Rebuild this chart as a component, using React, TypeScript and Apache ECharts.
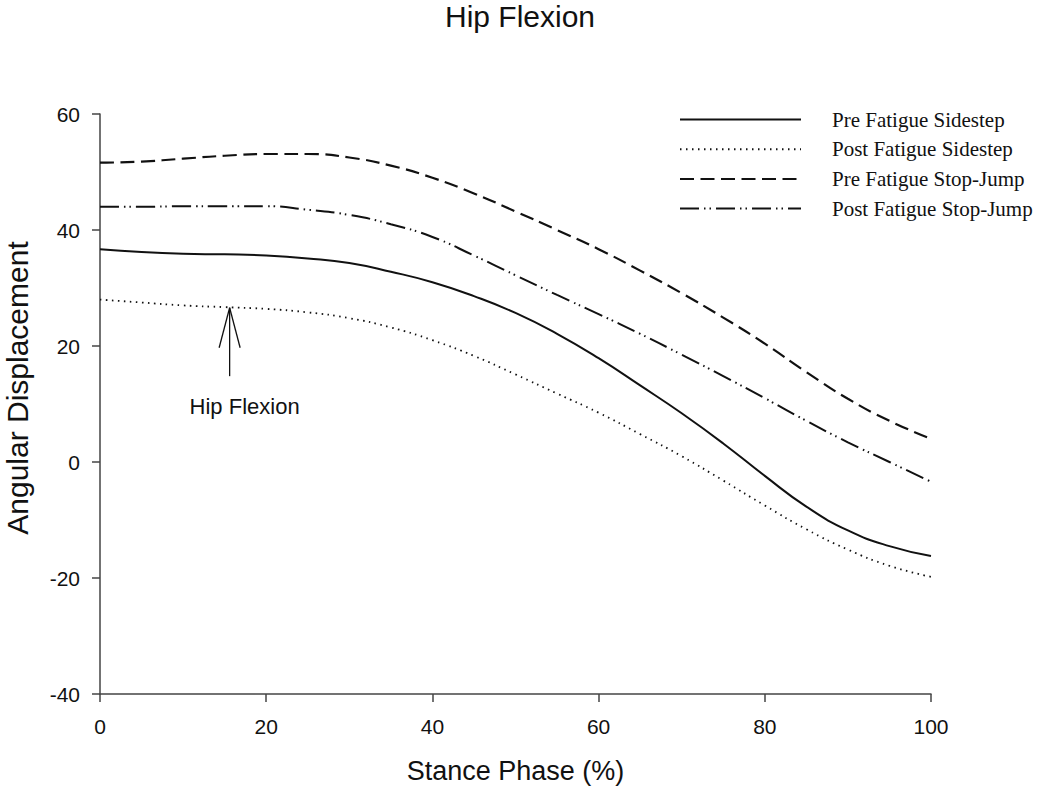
import React, { useEffect, useRef } from "react";
import * as echarts from "echarts";

const stancePhase = [0, 5, 10, 15, 20, 25, 30, 35, 40, 45, 50, 55, 60, 65, 70, 75, 80, 85, 90, 95, 100];
const preFatigueSidestep = [36.7, 36.2, 35.9, 35.8, 35.6, 35.1, 34.3, 32.8, 31.0, 28.6, 25.7, 22.1, 17.9, 13.2, 8.4, 3.2, -2.4, -7.7, -11.8, -14.5, -16.2];
const postFatigueSidestep = [28.0, 27.5, 27.0, 26.7, 26.4, 25.8, 24.8, 23.2, 21.0, 18.3, 15.1, 11.8, 8.5, 4.8, 1.0, -3.2, -7.5, -11.6, -15.1, -17.9, -19.8];
const preFatigueStopJump = [51.6, 51.8, 52.3, 52.8, 53.1, 53.1, 52.5, 51.1, 49.0, 46.3, 43.2, 40.0, 36.7, 33.0, 29.1, 24.9, 20.4, 15.5, 10.9, 7.1, 4.0];
const postFatigueStopJump = [44.0, 44.0, 44.1, 44.1, 44.1, 43.5, 42.6, 41.0, 38.8, 35.6, 32.2, 28.8, 25.5, 22.1, 18.5, 14.8, 11.0, 7.1, 3.4, 0.0, -3.4];

const seriesNames = ["Pre Fatigue Sidestep", "Post Fatigue Sidestep", "Pre Fatigue Stop-Jump", "Post Fatigue Stop-Jump"];
const xTicks = { min: 0, max: 100, interval: 20 };
const yTicks = { min: -40, max: 60, interval: 20 };

// annotation: arrow at x, from value -> to value (tip), label position
const annotationArrow = [15.6, 14.8, 26.6];
const annotationLabel = [17.4, 9.5];
const annotationText = "Hip Flexion";

const SANS = "'Liberation Sans', Arial, sans-serif";
const SERIF = "'Liberation Serif', 'Times New Roman', serif";
const INK = "#111";
const AXIS = "#444";

function pairs(values: number[]) {
  return stancePhase.map((x, i) => [x, values[i]]);
}

export default function App() {
  const ref = useRef<HTMLDivElement>(null);

  useEffect(() => {
    if (!ref.current) return;
    const chart = echarts.init(ref.current, undefined, { renderer: "svg" });

    const lineSeries = (name: string, values: number[], type: any, width: number) => ({
      name,
      type: "line",
      data: pairs(values),
      smooth: 0.5,
      symbol: "none",
      lineStyle: { color: INK, width, type, cap: "butt" },
      itemStyle: { color: INK },
      z: 3,
    });

    chart.setOption({
      animation: false,
      backgroundColor: "#fff",
      title: {
        text: "Hip Flexion",
        left: 515,
        textAlign: "center",
        top: -4,
        textStyle: { fontFamily: SANS, fontSize: 30, fontWeight: "normal", color: INK },
      },
      legend: {
        orient: "vertical",
        left: 679,
        top: 109,
        padding: 0,
        itemWidth: 121,
        itemHeight: 14,
        itemGap: 8.7,
        data: seriesNames,
        itemStyle: { color: "transparent", borderWidth: 0, opacity: 0 },
        textStyle: { fontFamily: SERIF, fontSize: 21, color: INK, padding: [0, 0, 0, 26] },
      },
      grid: { left: 100, right: 119, top: 114, bottom: 99, outerBoundsMode: "none" },
      xAxis: {
        type: "value",
        min: xTicks.min,
        max: xTicks.max,
        interval: xTicks.interval,
        name: "Stance Phase (%)",
        nameLocation: "middle",
        nameGap: 63,
        nameTextStyle: { fontFamily: SANS, fontSize: 27, color: INK },
        axisLine: { onZero: false, lineStyle: { color: AXIS, width: 1.5 } },
        axisTick: { show: true, inside: false, length: 8, lineStyle: { color: AXIS, width: 1.5 } },
        axisLabel: { fontFamily: SANS, fontSize: 21, color: INK, margin: 22 },
        splitLine: { show: false },
      },
      yAxis: {
        type: "value",
        min: yTicks.min,
        max: yTicks.max,
        interval: yTicks.interval,
        axisLine: { show: true, onZero: false, lineStyle: { color: AXIS, width: 1.5 } },
        axisTick: { show: true, inside: false, length: 8, lineStyle: { color: AXIS, width: 1.5 } },
        axisLabel: { fontFamily: SANS, fontSize: 21, color: INK, margin: 20 },
        splitLine: { show: false },
      },
      graphic: [
        {
          type: "text",
          x: 17,
          y: 388,
          rotation: Math.PI / 2,
          style: {
            text: "Angular Displacement",
            font: `30px ${SANS}`,
            fill: INK,
            align: "center",
            verticalAlign: "middle",
          },
        },
      ],
      series: [
        lineSeries(seriesNames[0], preFatigueSidestep, "solid", 2),
        lineSeries(seriesNames[1], postFatigueSidestep, [1.5, 4.5], 1.8),
        lineSeries(seriesNames[2], preFatigueStopJump, [14, 6.5], 2.2),
        lineSeries(seriesNames[3], postFatigueStopJump, [19, 5, 1.5, 4, 1.5, 5], 2),
        {
          type: "custom",
          name: "annotation",
          silent: true,
          clip: false,
          data: [[annotationArrow[0], annotationArrow[1], annotationArrow[2], annotationLabel[0], annotationLabel[1]]],
          renderItem: (params: any, api: any) => {
            const base = api.coord([api.value(0), api.value(1)]);
            const tip = api.coord([api.value(0), api.value(2)]);
            const lab = api.coord([api.value(3), api.value(4)]);
            const ls = { stroke: INK, lineWidth: 1.3 };
            return {
              type: "group",
              children: [
                { type: "line", shape: { x1: base[0], y1: base[1], x2: tip[0], y2: tip[1] }, style: ls },
                { type: "line", shape: { x1: tip[0] - 10.5, y1: tip[1] + 40, x2: tip[0], y2: tip[1] }, style: ls },
                { type: "line", shape: { x1: tip[0] + 10.5, y1: tip[1] + 40, x2: tip[0], y2: tip[1] }, style: ls },
                {
                  type: "text",
                  x: lab[0],
                  y: lab[1],
                  style: {
                    text: annotationText,
                    font: `22px ${SANS}`,
                    fill: INK,
                    align: "center",
                    verticalAlign: "middle",
                  },
                },
              ],
            };
          },
        },
      ],
    });

    return () => chart.dispose();
  }, []);

  return (
    <div
      ref={ref}
      style={{ position: "absolute", left: 0, top: 0, width: 1050, height: 793, background: "#fff" }}
    />
  );
}
